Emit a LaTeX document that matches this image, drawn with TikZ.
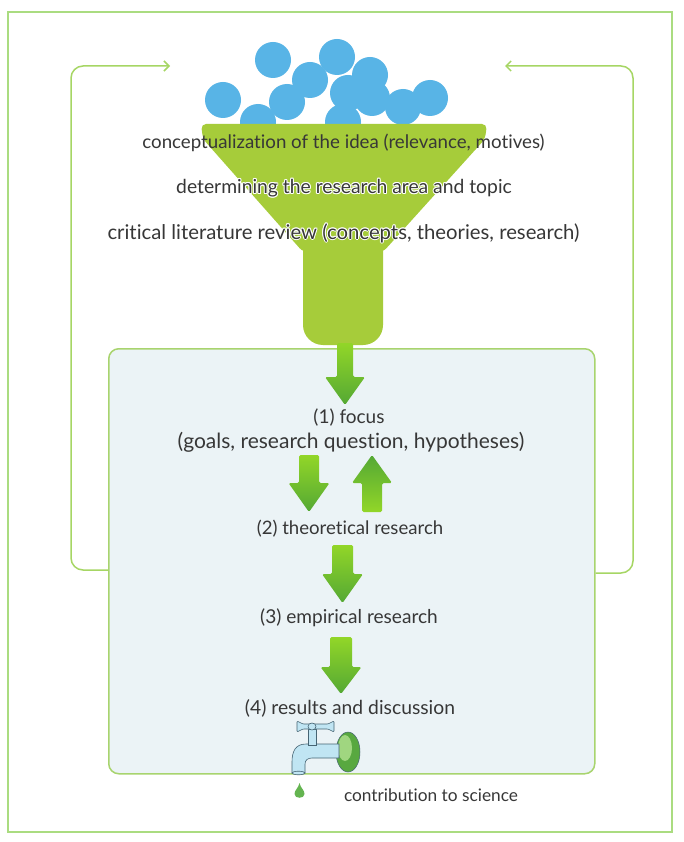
\documentclass[tikz,border=0pt]{standalone}
\usepackage{fontspec}
\setmainfont{Lato}[Ligatures={NoCommon,NoRare,NoDiscretionary}]
\usetikzlibrary{arrows.meta}
\definecolor{frameg}{RGB}{170,220,128}
\definecolor{loopg}{RGB}{166,214,100}
\definecolor{funnelg}{RGB}{166,204,58}
\definecolor{dotb}{RGB}{88,180,230}
\definecolor{boxfill}{RGB}{235,243,246}
\definecolor{boxline}{RGB}{168,212,110}
\definecolor{arrlight}{RGB}{146,214,40}
\definecolor{arrdark}{RGB}{84,168,52}
\definecolor{txt}{RGB}{55,55,55}
\definecolor{tapblue}{RGB}{192,229,243}
\definecolor{tapline}{RGB}{70,100,115}
\definecolor{flangeg}{RGB}{88,168,64}
\definecolor{flangel}{RGB}{160,214,128}
\definecolor{dropg}{RGB}{100,180,80}
\newcommand{\fsz}[1]{\fontsize{#1}{#1}\selectfont}
\newcommand{\hcopy}[3]{\makebox[0pt][l]{\hspace*{#1}\raisebox{#2}{\color{white}#3}}}
\newcommand{\halotext}[1]{\hcopy{-1pt}{0pt}{#1}\hcopy{1pt}{0pt}{#1}\hcopy{0pt}{1pt}{#1}\hcopy{0pt}{-1pt}{#1}\hcopy{-0.7pt}{0.7pt}{#1}\hcopy{0.7pt}{0.7pt}{#1}\hcopy{-0.7pt}{-0.7pt}{#1}\hcopy{0.7pt}{-0.7pt}{#1}#1}
\tikzset{
  lbl/.style={text=txt, inner sep=0pt, font=\fsz{19}},
  loopline/.style={draw=loopg, line width=1.5pt, rounded corners=12pt},
  loophead/.style={-{Straight Barb[length=5pt,width=10pt]}},
  blockdown/.style={top color=arrlight, bottom color=arrdark, rounded corners=1.5pt},
  blockup/.style={top color=arrdark, bottom color=arrlight, rounded corners=1.5pt},
  tapstroke/.style={fill=tapblue, draw=tapline, line width=0.6pt}
}
\newcommand{\downblock}[6]{%
  \shade[blockdown] (#1-#5,#2) -- (#1+#5,#2) -- (#1+#5,#3) -- (#1+#6,#3) -- (#1,#4) -- (#1-#6,#3) -- (#1-#5,#3) -- cycle;}
\newcommand{\upblock}[6]{%
  \shade[blockup] (#1-#5,#2) -- (#1+#5,#2) -- (#1+#5,#3) -- (#1+#6,#3) -- (#1,#4) -- (#1-#6,#3) -- (#1-#5,#3) -- cycle;}
\begin{document}
\begin{tikzpicture}[x=1pt,y=-1pt]
\useasboundingbox (0,0) rectangle (684,842);
\fill[white] (0,0) rectangle (684,842);
% outer frame
\draw[frameg, line width=1.5pt] (8,12) rectangle (672,832);
% blue circles
\foreach \cx/\cy in {223/100, 273/60, 258/122, 287/102, 310/80, 337/57, 348/93, 370/75, 343/122, 372/98, 403/107, 430/98}
  \fill[dotb] (\cx,\cy) circle[radius=18];
% funnel
\fill[funnelg, rounded corners=5pt] (201,124) -- (487,124) -- (485,139) -- (383,252) -- (303,252) -- (203,139) -- cycle;
\fill[funnelg, rounded corners=20pt] (303,200) -- (303,345) -- (383,345) -- (383,200) -- cycle;
% funnel texts
\node[lbl, font=\fsz{18.7}] (t1) at (343.5,143) {conceptualization of the idea (relevance, motives)};
\node[lbl, font=\fsz{19.3}] (t2) at (344,188) {\halotext{determining the research area and topic}};
\node[lbl, font=\fsz{20.3}] (t3) at (343.5,233) {\halotext{critical literature review (concepts, theories, research)}};
% research box
\node[draw=boxline, fill=boxfill, line width=1.5pt, rounded corners=10pt,
      minimum width=486pt, minimum height=425pt, anchor=north west] (box) at (108,348) {};
% feedback loops
\coordinate (lc) at (71,570);
\coordinate (la) at (170,66);
\coordinate (rc) at (633,573);
\coordinate (ra) at (505,66);
\draw[loopline, loophead] (box.west |- lc) -- (lc) |- (la);
\draw[loopline, loophead] (box.east |- rc) -- (rc) |- (ra);
% block arrows
\downblock{345}{343}{377}{405}{8}{20}
\downblock{309}{455}{483}{512}{10}{20.5}
\upblock{372}{512}{483}{455}{10}{20}
\downblock{342.5}{545}{574}{603}{10.5}{20.5}
\downblock{341}{637}{667}{694}{11}{20.5}
% step texts
\node[lbl] (s1) at (349,418) {(1) focus};
\node[lbl, font=\fsz{21}] (s1b) at (351,442) {(goals, research question, hypotheses)};
\node[lbl, font=\fsz{18.6}] (s2) at (350,529) {(2) theoretical research};
\node[lbl, font=\fsz{19.1}] (s3) at (349,618) {(3) empirical research};
\node[lbl, font=\fsz{19.3}] (s4) at (350,708) {(4) results and discussion};
% tap
\fill[flangeg, draw=tapline, line width=0.5pt] (348,752) ellipse[x radius=12, y radius=20];
\fill[flangel] (345,748) ellipse[x radius=7, y radius=13];
\filldraw[tapstroke] (339,744) -- (306,744) .. controls (295,744) and (292,752) .. (292,762) -- (292,773) -- (305,773) -- (305,764) .. controls (305,760) and (308,758) .. (312,758) -- (339,758) -- cycle;
\filldraw[tapstroke] (298.5,773) ellipse[x radius=6.5, y radius=1.8];
\filldraw[tapstroke] (308,729) rectangle (316,745);
\filldraw[tapstroke, rounded corners=1pt] (297,721) -- (303,724) -- (328,724) -- (334,721) -- (334,732) -- (328,729) -- (303,729) -- (297,732) -- cycle;
\filldraw[tapstroke] (312,726.5) ellipse[x radius=4, y radius=3.5];
% drop
\fill[dropg] (299.5,783) .. controls (300.5,788) and (304.5,790) .. (304.5,794) .. controls (304.5,799) and (294.5,799) .. (294.5,794) .. controls (294.5,790) and (298.5,788) .. (299.5,783) -- cycle;
\node[lbl, font=\fsz{17.3}] (sci) at (431,795) {contribution to science};
\end{tikzpicture}
\end{document}
